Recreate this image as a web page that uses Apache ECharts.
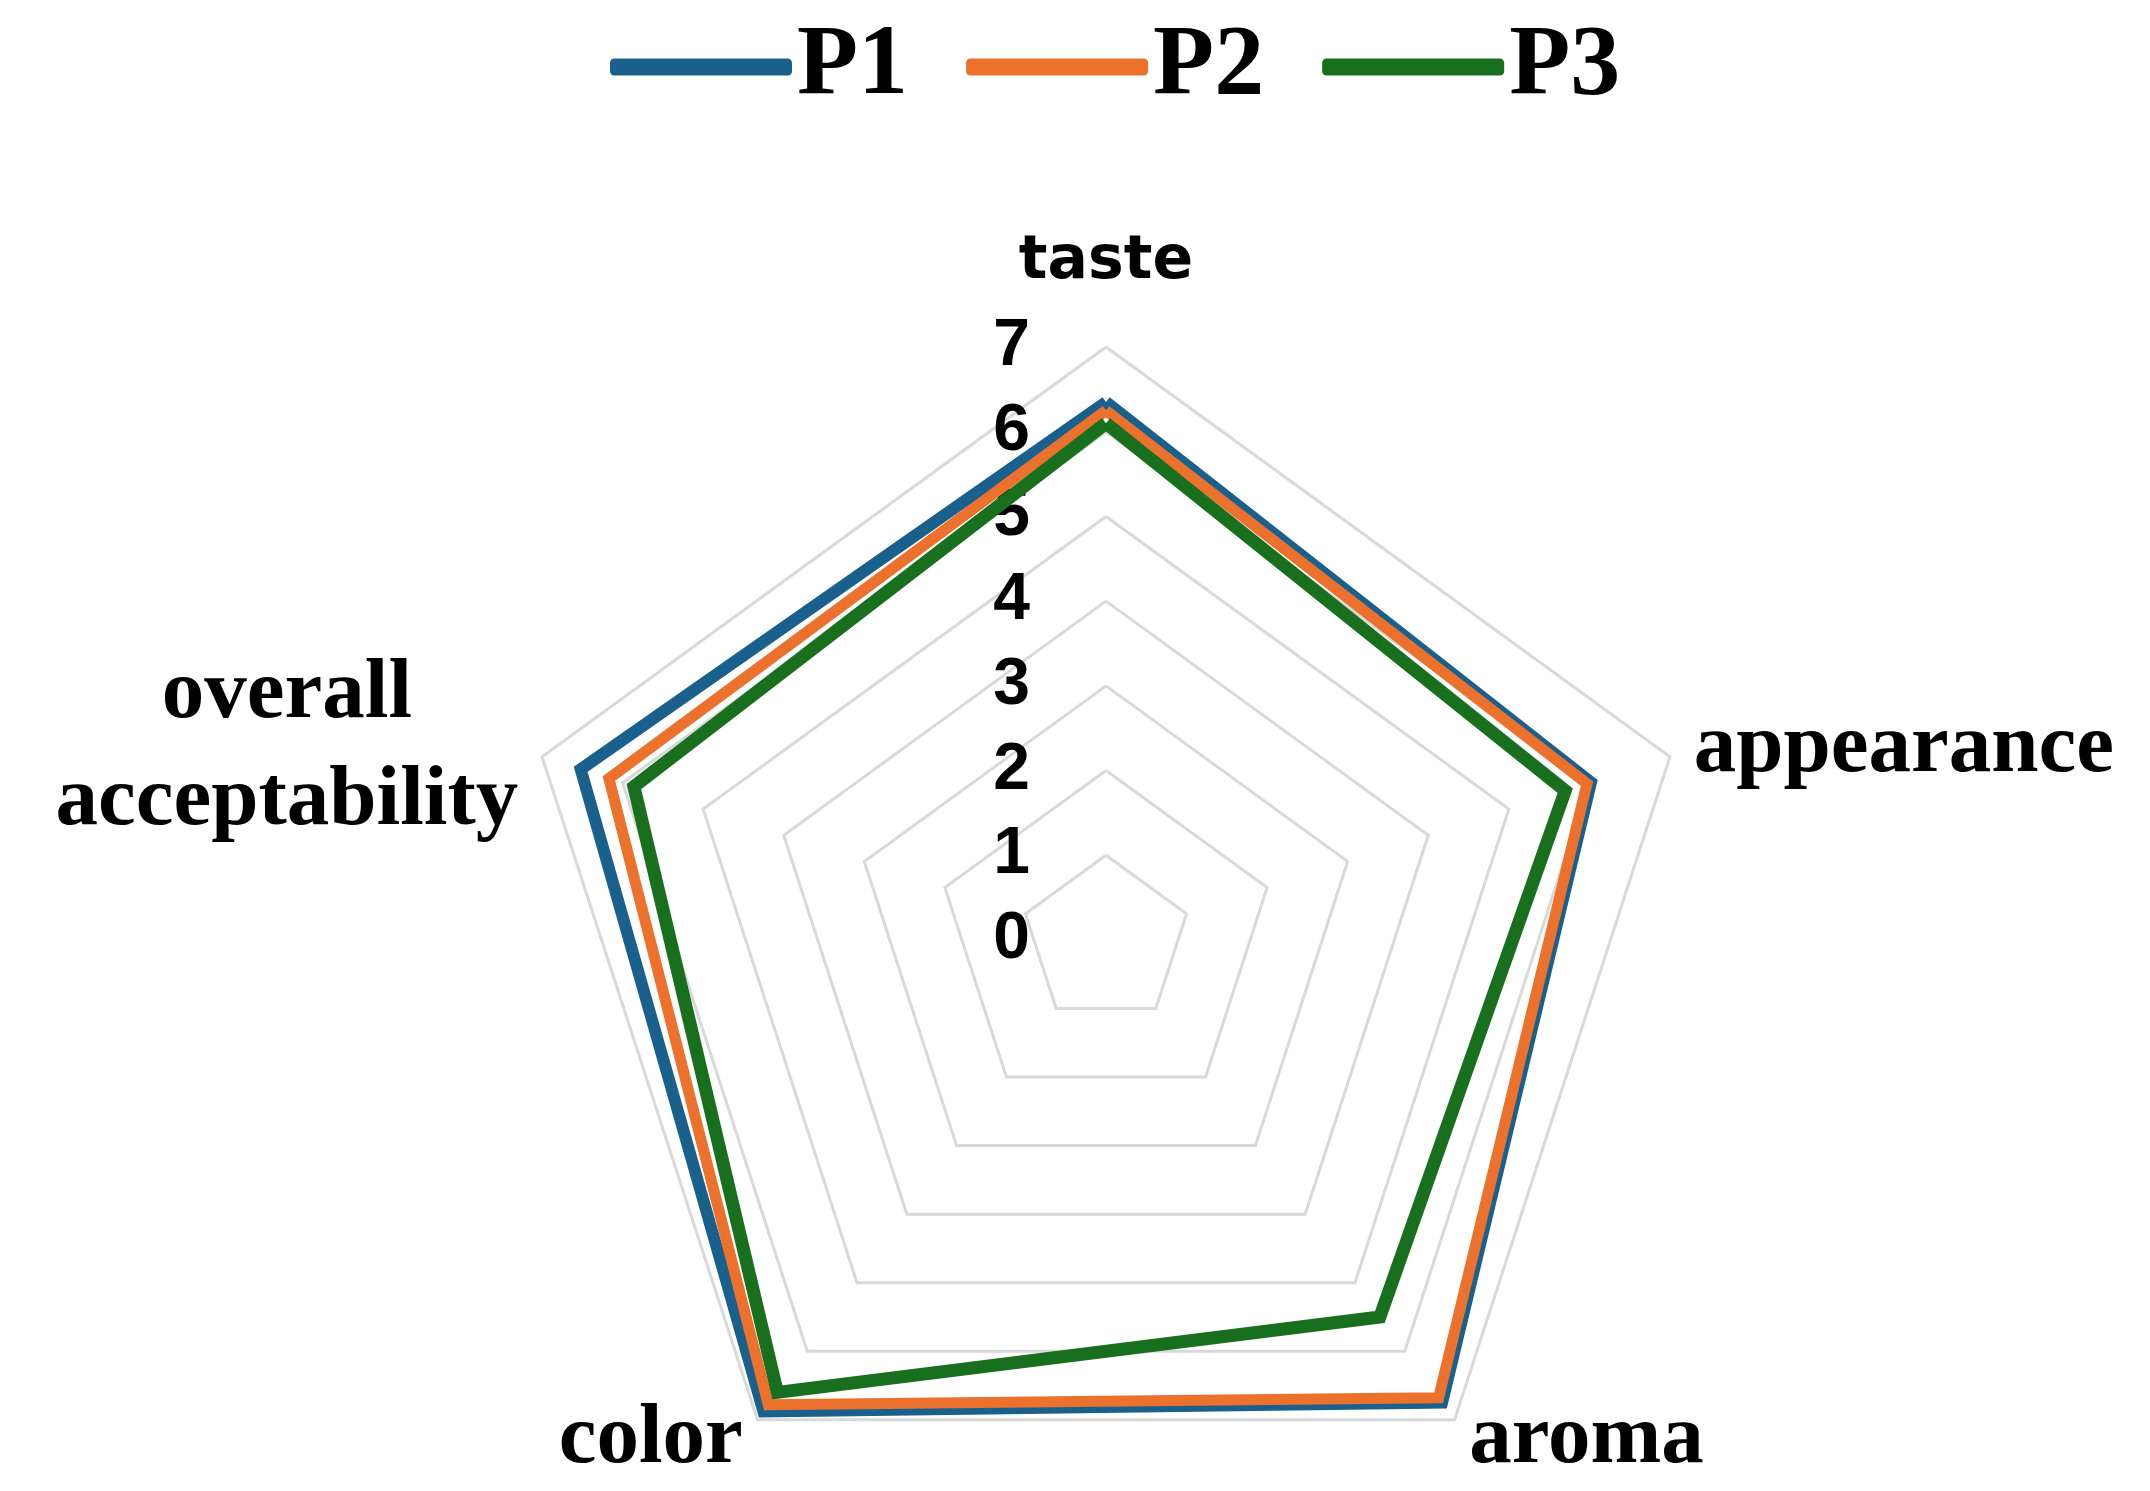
<!DOCTYPE html>
<html>
<head>
<meta charset="utf-8">
<style>
  html, body { margin: 0; background: #fff; }
  #chart { width: 2150px; height: 1491px; }
</style>
<script src="https://cdn.jsdelivr.net/npm/echarts@6/dist/echarts.min.js"></script>
</head>
<body>
<div id="chart"></div>
<script>
// categories in clockwise order, starting at the top
const categories = ['taste', 'appearance', 'aroma', 'color', 'overall\nacceptability'];
const seriesNames = ['P1', 'P2', 'P3'];
const p1Values = [6.35, 6.02, 6.75, 6.88, 6.52];
const p2Values = [6.25, 5.97, 6.68, 6.78, 6.17];
const p3Values = [6.10, 5.70, 5.50, 6.60, 5.86];
const scaleMin = 0;
const scaleMax = 7;

const colors = ['#19608c', '#eb712d', '#186f1e'];
const widths = [12, 11, 13];

// echarts lays out radar indicators counter-clockwise, so keep the first and flip the rest
const order = [0, ...categories.map((_, i) => i).slice(1).reverse()];
const reorder = arr => order.map(i => arr[i]);

const chart = echarts.init(document.getElementById('chart'), null, { renderer: 'canvas' });

const option = {
  animation: false,
  backgroundColor: '#fff',
  legend: {
    left: 605,
    top: 12,
    icon: 'roundRect',
    itemWidth: 182,
    itemHeight: 17,
    itemGap: 58,
    data: seriesNames,
    textStyle: {
      fontFamily: 'Liberation Serif',
      fontWeight: 'bold',
      fontSize: 100,
      color: '#000',
    },
  },
  radar: {
    center: [1106, 940],
    radius: 593,
    startAngle: 90,
    splitNumber: 7,
    shape: 'polygon',
    nameGap: 25,
    axisName: {
      color: '#000',
      fontFamily: 'Liberation Serif',
      fontWeight: 'bold',
      fontSize: 85,
      formatter: (name) => {
        if (name === 'taste') return `{t|${name}}`;
        return name.split('\n').map(line => `{s|${line}}`).join('\n');
      },
      rich: {
        t: {
          fontFamily: 'DejaVu Sans',
          fontWeight: 'bold',
          fontSize: 60,
          color: '#000',
          padding: [0, 0, 30, 0],
        },
        s: {
          fontFamily: 'Liberation Serif',
          fontWeight: 'bold',
          fontSize: 85,
          lineHeight: 107,
          align: 'center',
          color: '#000',
        },
      },
    },
    axisLine: { show: false },
    axisTick: { show: false },
    splitArea: { show: false },
    splitLine: { lineStyle: { color: '#d9d9d9', width: 3 } },
    axisLabel: {
      show: false,
      color: '#000',
      fontFamily: 'Liberation Sans',
      fontWeight: 'bold',
      fontSize: 66,
      margin: 76,
    },
    indicator: order.map((i) => {
      const ind = { name: categories[i], min: scaleMin, max: scaleMax };
      if (i === 0) ind.axisLabel = { show: true };
      return ind;
    }),
  },
  series: [
    {
      type: 'radar',
      symbol: 'none',
      data: [p1Values, p2Values, p3Values].map((vals, k) => ({
        name: seriesNames[k],
        value: reorder(vals),
        itemStyle: { color: colors[k] },
        lineStyle: { color: colors[k], width: widths[k], join: 'miter' },
      })),
    },
  ],
};

chart.setOption(option);
</script>
</body>
</html>
